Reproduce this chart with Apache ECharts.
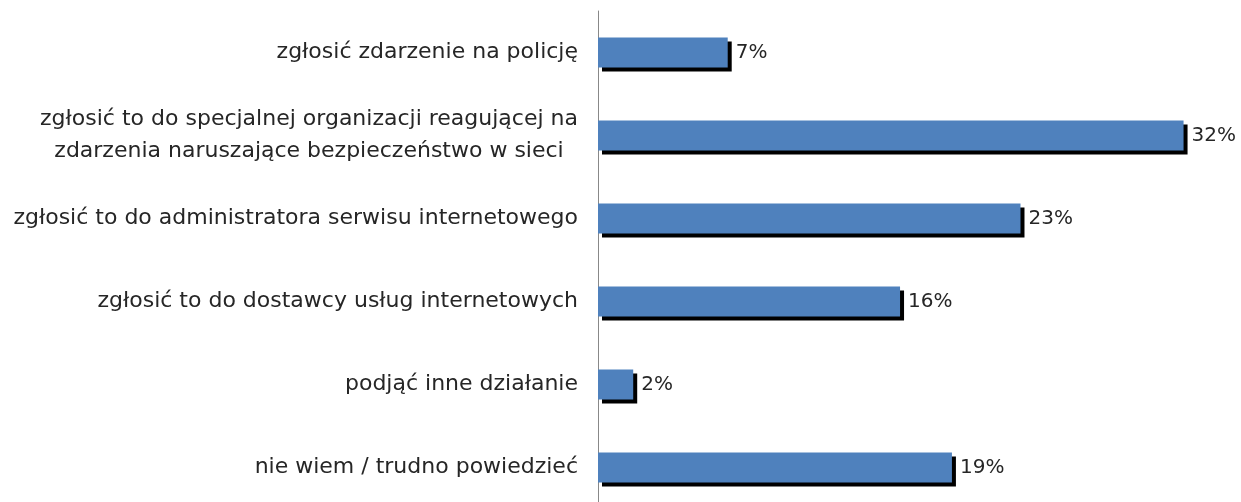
<!DOCTYPE html>
<html>
<head>
<meta charset="utf-8">
<script src="https://cdn.jsdelivr.net/npm/echarts@6/dist/echarts.min.js"></script>
<style>
  html, body { margin: 0; padding: 0; background: #fff; }
  #chart { width: 1241px; height: 502px; }
</style>
</head>
<body>
<div id="chart"></div>
<script>
var categories = [
  'zgłosić zdarzenie na policję',
  'zgłosić to do specjalnej organizacji reagującej na\nzdarzenia naruszające bezpieczeństwo w sieci',
  'zgłosić to do administratora serwisu internetowego',
  'zgłosić to do dostawcy usług internetowych',
  'podjąć inne działanie',
  'nie wiem / trudno powiedzieć'
];
// bar lengths (labels show them rounded)
var values = [7.0, 31.6, 22.8, 16.3, 1.9, 19.1];

var FONT = 'DejaVu Sans';
var FS = 22;

// width of the longest line, so two-line labels can be centred as a block
var ctx = document.createElement('canvas').getContext('2d');
ctx.font = FS + 'px "' + FONT + '"';
function longest(s) {
  return Math.max.apply(null, s.split('\n').map(function (l) { return ctx.measureText(l).width; }));
}

var chart = echarts.init(document.getElementById('chart'));

chart.setOption({
  animation: false,
  grid: {
    left: 598,
    top: 11,
    bottom: -7,
    right: 0,
    outerBoundsMode: 'none'
  },
  xAxis: {
    type: 'value',
    min: 0,
    max: 34.7,
    show: false
  },
  yAxis: {
    type: 'category',
    inverse: true,
    data: categories,
    axisLine: { show: true, lineStyle: { color: '#888', width: 1 } },
    axisTick: { show: false },
    axisLabel: {
      margin: 20,
      fontFamily: FONT,
      fontSize: FS,
      color: '#262626',
      formatter: function (v) {
        if (v.indexOf('\n') < 0) return v;
        return v.split('\n').map(function (s) { return '{c|' + s + '}'; }).join('\n');
      },
      rich: {
        c: {
          width: longest(categories[1]),
          align: 'center',
          lineHeight: 32,
          fontFamily: FONT,
          fontSize: FS,
          color: '#262626'
        }
      }
    }
  },
  series: [{
    type: 'bar',
    data: values,
    barWidth: 30,
    itemStyle: {
      color: '#4F81BD',
      shadowColor: '#000',
      shadowOffsetX: 4,
      shadowOffsetY: 4,
      shadowBlur: 0
    },
    label: {
      show: true,
      position: 'right',
      distance: 8,
      fontFamily: FONT,
      fontSize: 20,
      color: '#262626',
      formatter: function (p) { return Math.round(p.value) + '%'; }
    }
  }]
});
</script>
</body>
</html>
